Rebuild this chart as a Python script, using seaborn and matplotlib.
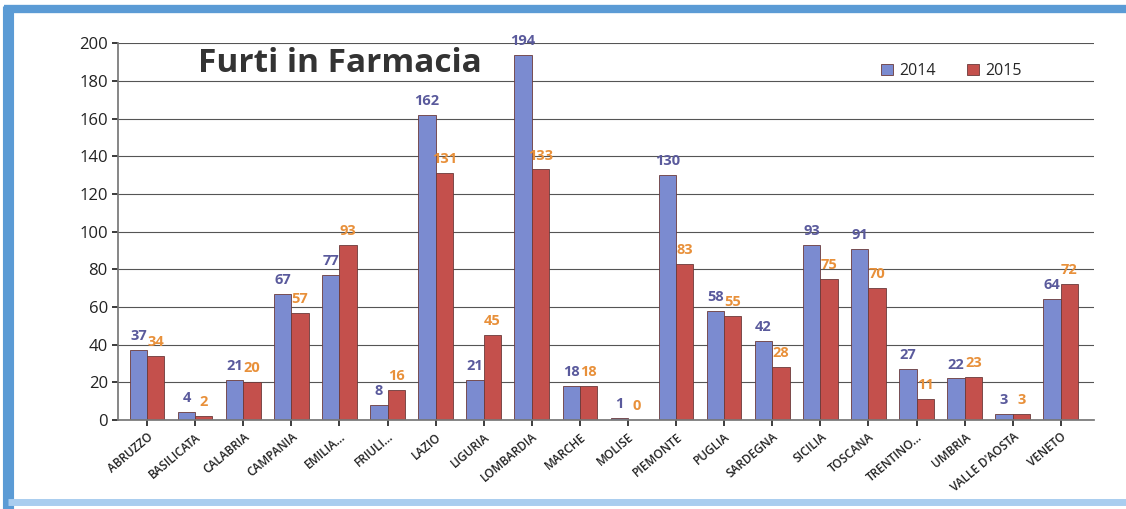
import matplotlib
matplotlib.use("Agg")
import matplotlib.pyplot as plt
import seaborn as sns
import pandas as pd
from matplotlib.lines import Line2D

regions = ["ABRUZZO", "BASILICATA", "CALABRIA", "CAMPANIA", "EMILIA...", "FRIULI...",
           "LAZIO", "LIGURIA", "LOMBARDIA", "MARCHE", "MOLISE", "PIEMONTE", "PUGLIA",
           "SARDEGNA", "SICILIA", "TOSCANA", "TRENTINO...", "UMBRIA", "VALLE D'AOSTA", "VENETO"]
v2014 = [37, 4, 21, 67, 77, 8, 162, 21, 194, 18, 1, 130, 58, 42, 93, 91, 27, 22, 3, 64]
v2015 = [34, 2, 20, 57, 93, 16, 131, 45, 133, 18, 0, 83, 55, 28, 75, 70, 11, 23, 3, 72]
years = ["2014", "2015"]

df = pd.DataFrame({
    "regione": regions * 2,
    "anno": [years[0]] * len(regions) + [years[1]] * len(regions),
    "furti": v2014 + v2015,
})

sns.set_theme(style="white")
plt.rcParams["font.family"] = ["Open Sans", "DejaVu Sans"]

fig = plt.figure(figsize=(11.26, 5.09), dpi=100)
ax = fig.add_axes([0.105, 0.175, 0.867, 0.74])

palette = {"2014": "#7b8bd0", "2015": "#c4504c"}
sns.barplot(data=df, x="regione", y="furti", hue="anno", order=regions,
            hue_order=years, palette=palette, width=0.72, ax=ax,
            edgecolor="#6b3a3a", linewidth=0.6, saturation=1)

ax.set_ylim(0, 200)
ax.set_xlim(-0.6, 19.7)
ax.set_yticks(range(0, 201, 20))
ax.tick_params(axis="y", labelsize=12, colors="#222222", length=4, left=True)
ax.tick_params(axis="x", labelsize=8.5, length=4, bottom=True)
ax.set_xlabel("")
ax.set_ylabel("")
for lbl in ax.get_xticklabels():
    lbl.set_rotation(40)
    lbl.set_ha("right")
    lbl.set_rotation_mode("anchor")
    lbl.set_color("#222222")
    lbl.set_fontweight("semibold")
ax.yaxis.grid(True, color="#555555", linewidth=0.8)
ax.set_axisbelow(True)
for s in ["top", "right"]:
    ax.spines[s].set_visible(False)
ax.spines["left"].set_color("#777777")
ax.spines["bottom"].set_color("#777777")

label_colors = ["#5a5a9c", "#e8903a"]
for cont, col in zip(ax.containers, label_colors):
    ax.bar_label(cont, padding=5, color=col, fontsize=10.5, fontweight="bold")

ax.text(0.082, 0.99, "Furti in Farmacia", transform=ax.transAxes, fontsize=24,
        fontweight="bold", color="#333333", va="top", ha="left")

ax.legend(loc="upper right", bbox_to_anchor=(0.94, 0.985), ncol=2, frameon=False,
          fontsize=11.5, handlelength=0.7, handleheight=0.7, columnspacing=2.0,
          handletextpad=0.4)

W, H = 1126, 509
def fx(px):
    return px / W
def fy(py):
    return 1 - py / H

fig.add_artist(Line2D([fx(4), fx(1126)], [fy(9), fy(9)], color="#5b9bd5", linewidth=6,
                      transform=fig.transFigure, solid_capstyle="butt"))
fig.add_artist(Line2D([fx(8), fx(8)], [fy(6), fy(509)], color="#5b9bd5", linewidth=8,
                      transform=fig.transFigure, solid_capstyle="butt"))
fig.add_artist(Line2D([fx(8), fx(1126)], [fy(502), fy(502)], color="#a9cdef", linewidth=5,
                      transform=fig.transFigure, solid_capstyle="butt"))

fig.savefig("out.png", dpi=100)
